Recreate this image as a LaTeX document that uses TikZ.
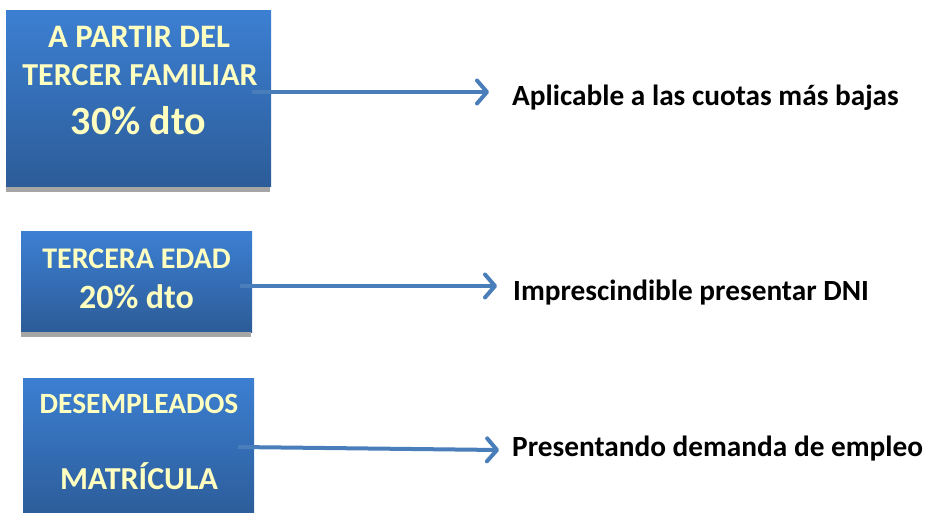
\documentclass[tikz,border=0pt]{standalone}
\usepackage{fontspec}
\setmainfont{Carlito}
\usetikzlibrary{arrows.meta}
\definecolor{cardtop}{HTML}{3C7FD2}
\definecolor{cardbottom}{HTML}{2C5C98}
\definecolor{cardink}{HTML}{FFFFC0}
\definecolor{linkblue}{HTML}{4A7EBB}
\definecolor{shadowgray}{HTML}{A6A6A6}
\tikzset{
  card/.style={rectangle, inner sep=0pt, top color=cardtop, bottom color=cardbottom, draw=none},
  cardline/.style={anchor=base, inner sep=0pt, text=cardink, font=\bfseries\fontsize{#1}{#1}\selectfont},
  note/.style={anchor=base west, inner sep=0pt, font=\bfseries\fontsize{29.3}{29.3}\selectfont},
  link/.style={->, line width=4pt, draw=linkblue}
}
\begin{document}
\begin{tikzpicture}[x=1pt, y=1pt, >={Straight Barb[length=10pt, width=23pt, round]}]
  \useasboundingbox (0,0) rectangle (928,512);
  % the three discount boxes, each with its grey shadow strip
  \node[card, minimum width=265pt, minimum height=176pt] (b1) at (138.5,413) {};
  \node[card, minimum width=231pt, minimum height=100pt] (b2) at (136.5,230) {};
  \node[card, minimum width=231pt, minimum height=140pt] (b3) at (138.5,64) {};
  \fill[shadowgray] ([yshift=-5pt]b1.south west) rectangle ([xshift=-1pt]b1.south east);
  \fill[shadowgray] ([yshift=-5pt]b2.south west) rectangle ([xshift=-1pt]b2.south east);
  % box texts
  \node[cardline=32.8] (t1a) at (139,464) {A PARTIR DEL};
  \node[cardline=32] (t1b) at (140,426) {TERCER FAMILIAR};
  \node[cardline=40] (t1c) at (138.5,377) {30\% dto};
  \node[cardline=30] (t2a) at (136.5,244) {TERCERA EDAD};
  \node[cardline=34] (t2b) at (136.5,204) {20\% dto};
  \node[cardline=29.4] (t3a) at (139,99) {DESEMPLEADOS};
  \node[cardline=32] (t3b) at (139,23) {MATRÍCULA};
  % conditions on the right
  \node[note] (d1) at (512,406) {Aplicable a las cuotas más bajas};
  \node[note] (d2) at (513,212) {Imprescindible presentar DNI};
  \node[note] (d3) at (512,56) {Presentando demanda de empleo};
  % arrows from the boxes
  \coordinate (s1) at (252,420);
  \coordinate (e1) at (489,420);
  \coordinate (s2) at (240,226);
  \coordinate (e2) at (497,226);
  \coordinate (s3) at (238,65);
  \coordinate (e3) at (499,62);
  \draw[link] (s1) -- (e1);
  \draw[link] (s2) -- (e2);
  \draw[link] (s3) -- (e3);
\end{tikzpicture}
\end{document}
